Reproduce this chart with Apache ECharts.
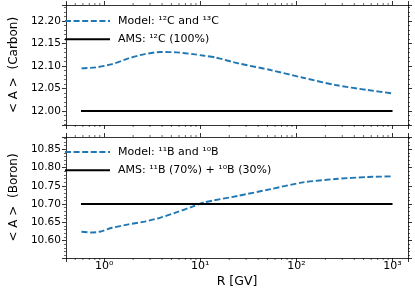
<!DOCTYPE html>
<html><head><meta charset="utf-8">
<script src="https://cdn.jsdelivr.net/npm/echarts@6/dist/echarts.min.js"></script>
<style>html,body{margin:0;padding:0;background:#fff}#c{width:415px;height:292px}</style>
</head><body><div id="c"></div>
<script>
// ---- data ----
const carbonR = [0.58, 0.82, 1.21, 1.79, 2.64, 3.87, 5.71, 8.41, 11.0, 14.5, 24.9, 54, 117, 254, 552, 1000];
const carbonModel = [12.0946, 12.0968, 12.104, 12.1167, 12.1262, 12.1307, 12.130, 12.126, 12.1225, 12.1185, 12.1056, 12.0908, 12.0738, 12.0576, 12.0465, 12.039];
const boronR = [0.58, 0.73, 0.89, 1.21, 1.79, 2.64, 3.87, 5.71, 8.41, 11.0, 24.9, 54, 117, 254, 552, 1000];
const boronModel = [10.6239, 10.622, 10.6239, 10.6349, 10.6443, 10.6519, 10.663, 10.6777, 10.6935, 10.7046, 10.7227, 10.741, 10.7595, 10.7687, 10.7742, 10.7761];
const amsR = [0.573, 1000];
const amsCarbon = [12.0, 12.0];
const amsBoron = [10.7, 10.7];
const xTickLabels = {0: '10⁰', 1: '10¹', 2: '10²', 3: '10³'};
const xMinorTicks = [0.5, 0.6, 0.7, 0.8, 0.9, 2, 3, 4, 5, 6, 7, 8, 9, 20, 30, 40, 50, 60, 70, 80, 90, 200, 300, 400, 500, 600, 700, 800, 900];
const legendNames = {
  mC: 'Model: ¹²C and ¹³C', aC: 'AMS: ¹²C (100%)',
  mB: 'Model: ¹¹B and ¹⁰B', aB: 'AMS: ¹¹B (70%) + ¹⁰B (30%)'
};

const FONT = 'DejaVu Sans';
const BLUE = '#1f77b4';
const zip = (a, b) => a.map((v, i) => [v, b[i]]);

function xAxisCfg(grid, pos, showLabels, name) {
  return {
    type: 'log', logBase: 10, gridIndex: grid, position: pos, min: 0.4, max: 1449,
    name: name || '', nameLocation: 'middle', nameGap: 17,
    nameTextStyle: {fontFamily: FONT, fontSize: 12.5, color: '#000'},
    axisLine: {show: true, onZero: false, lineStyle: {color: '#000', width: 0.8}},
    axisTick: {show: true, inside: false, length: 4, lineStyle: {color: '#000', width: 0.8}},
    minorTick: {show: false},
    splitLine: {show: false},
    axisLabel: {
      show: showLabels, margin: 3, fontFamily: FONT, fontSize: 11, color: '#000',
      formatter: v => {
        const e = Math.log10(v);
        if (Math.abs(e - Math.round(e)) > 1e-6) return '';
        return xTickLabels[Math.round(e)] || '';
      }
    }
  };
}
function yAxisCfg(grid, pos, showLabels, min, max, name) {
  return {
    type: 'value', gridIndex: grid, position: pos, min: min, max: max,
    name: name || '', nameLocation: 'middle', nameGap: 38,
    nameTextStyle: {fontFamily: FONT, fontSize: 12, color: '#000'},
    axisLine: {show: true, onZero: false, lineStyle: {color: '#000', width: 0.8}},
    axisTick: {show: true, inside: false, length: 4, lineStyle: {color: '#000', width: 0.8}},
    minorTick: {show: true, splitNumber: 5, length: 2, lineStyle: {color: '#000', width: 0.6}},
    splitLine: {show: false},
    axisLabel: {
      show: showLabels, margin: 5, fontFamily: FONT, fontSize: 10.5, color: '#000',
      formatter: v => {
        const k = v / 0.05;
        if (Math.abs(k - Math.round(k)) > 1e-6) return '';
        return v.toFixed(2);
      }
    }
  };
}
function minorTickRender(params, api) {
  const cs = params.coordSys;
  const x = api.coord([api.value(0), api.value(1)])[0];
  const st = {stroke: '#000', lineWidth: 0.6};
  return {type: 'group', children: [
    {type: 'line', shape: {x1: x, y1: cs.y + cs.height, x2: x, y2: cs.y + cs.height + 2}, style: st},
    {type: 'line', shape: {x1: x, y1: cs.y, x2: x, y2: cs.y - 2}, style: st}
  ]};
}
function legendCfg(top, names) {
  return {
    orient: 'vertical', left: 64, top: top, padding: 0, itemWidth: 45, itemHeight: 14, itemGap: 7,
    data: names,
    itemStyle: {opacity: 0},
    formatter: n => legendNames[n],
    textStyle: {fontFamily: FONT, fontSize: 11, color: '#000', padding: [0, 0, 0, 3]}
  };
}

const chart = echarts.init(document.getElementById('c'), null, {renderer: 'canvas'});
chart.setOption({
  animation: false,
  backgroundColor: '#fff',
  grid: [
    {left: 56, right: 7, top: 5, height: 120},
    {left: 56, right: 7, top: 137, height: 121}
  ],
  xAxis: [
    xAxisCfg(0, 'bottom', false),
    xAxisCfg(0, 'top', false),
    xAxisCfg(1, 'bottom', true, 'R [GV]'),
    xAxisCfg(1, 'top', false)
  ],
  yAxis: [
    yAxisCfg(0, 'left', true, 11.969, 12.235, '< A >  (Carbon)'),
    yAxisCfg(0, 'right', false, 11.969, 12.235),
    yAxisCfg(1, 'left', true, 10.552, 10.884, '< A >  (Boron)'),
    yAxisCfg(1, 'right', false, 10.552, 10.884)
  ],
  legend: [legendCfg(15.5, ['mC', 'aC']), legendCfg(146.5, ['mB', 'aB'])],
  series: [
    {name: 'mC', type: 'line', xAxisIndex: 0, yAxisIndex: 0, data: zip(carbonR, carbonModel),
     symbol: 'circle', showSymbol: false, smooth: 0.25, lineStyle: {color: BLUE, width: 1.9, type: [6, 2.6]}, itemStyle: {color: BLUE}},
    {name: 'aC', type: 'line', xAxisIndex: 0, yAxisIndex: 0, data: zip(amsR, amsCarbon),
     symbol: 'circle', showSymbol: false, lineStyle: {color: '#000', width: 2}, itemStyle: {color: '#000'}},
    {name: 'mB', type: 'line', xAxisIndex: 2, yAxisIndex: 2, data: zip(boronR, boronModel),
     symbol: 'circle', showSymbol: false, smooth: 0.25, lineStyle: {color: BLUE, width: 1.9, type: [6, 2.6]}, itemStyle: {color: BLUE}},
    {name: 'aB', type: 'line', xAxisIndex: 2, yAxisIndex: 2, data: zip(amsR, amsBoron),
     symbol: 'circle', showSymbol: false, lineStyle: {color: '#000', width: 2}, itemStyle: {color: '#000'}},
    {type: 'custom', xAxisIndex: 0, yAxisIndex: 0, silent: true, clip: false,
     data: xMinorTicks.map(v => [v, 12.1]), renderItem: minorTickRender},
    {type: 'custom', xAxisIndex: 2, yAxisIndex: 2, silent: true, clip: false,
     data: xMinorTicks.map(v => [v, 10.7]), renderItem: minorTickRender}
  ]
});
</script></body></html>
